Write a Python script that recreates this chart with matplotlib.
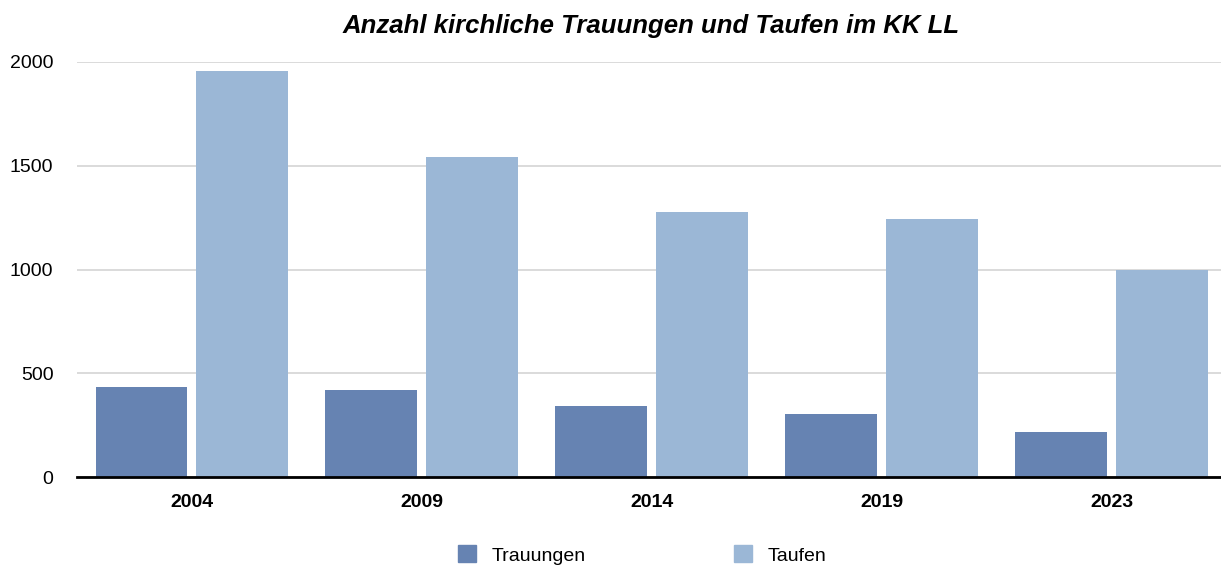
import matplotlib
matplotlib.use("Agg")
import matplotlib.pyplot as plt
import numpy as np
from matplotlib.patches import Patch

years = ["2004", "2009", "2014", "2019", "2023"]
trauungen = [432, 419, 342, 304, 215]
taufen = [1958, 1542, 1277, 1243, 998]
series_names = ["Trauungen", "Taufen"]
yticks = [0, 500, 1000, 1500, 2000]

c_trau = "#6683b2"
c_tauf = "#9bb7d6"

plt.rcParams['font.family'] = ['Liberation Sans', 'DejaVu Sans']

fig = plt.figure(figsize=(12.21, 5.65), dpi=100)
ax = fig.add_axes([77/1221, 1-477/565, 1149.5/1221, 415/565])

x = np.arange(len(years))
w = 0.4
gap = 0.039
ax.bar(x - (w+gap)/2, trauungen, width=w, color=c_trau, zorder=3)
ax.bar(x + (w+gap)/2, taufen, width=w, color=c_tauf, zorder=3)

ax.set_xlim(-0.5, len(years)-0.5)
ax.set_ylim(0, 2000)
ax.set_yticks(yticks)
ax.set_yticklabels([str(v) for v in yticks], fontsize=14)
ax.set_xticks(x)
ax.set_xticklabels(years, fontsize=14, fontweight='bold')
ax.tick_params(axis='y', length=0, pad=17)
ax.tick_params(axis='x', length=0, pad=12)
ax.yaxis.grid(True, color='#d4d4d4', linewidth=1.2, zorder=0)
ax.set_axisbelow(True)
for s in ['top', 'right', 'left']:
    ax.spines[s].set_visible(False)
ax.spines['bottom'].set_linewidth(2)
ax.spines['bottom'].set_color('black')
ax.spines['bottom'].set_zorder(4)

fig.text(651/1221, 1-33/565, "Anzahl kirchliche Trauungen und Taufen im KK LL",
         ha='center', va='baseline', fontsize=18.5, fontweight='bold', style='italic')

handles = [Patch(color=c_trau, label=series_names[0]), Patch(color=c_tauf, label=series_names[1])]
fig.legend(handles=handles, loc='center', bbox_to_anchor=(642/1221, 1-555/565),
           ncol=2, frameon=False, fontsize=14, handlelength=0.95, handleheight=0.95,
           handletextpad=0.8, columnspacing=7.6, borderaxespad=0, borderpad=0)

fig.savefig("out.png", dpi=100)
